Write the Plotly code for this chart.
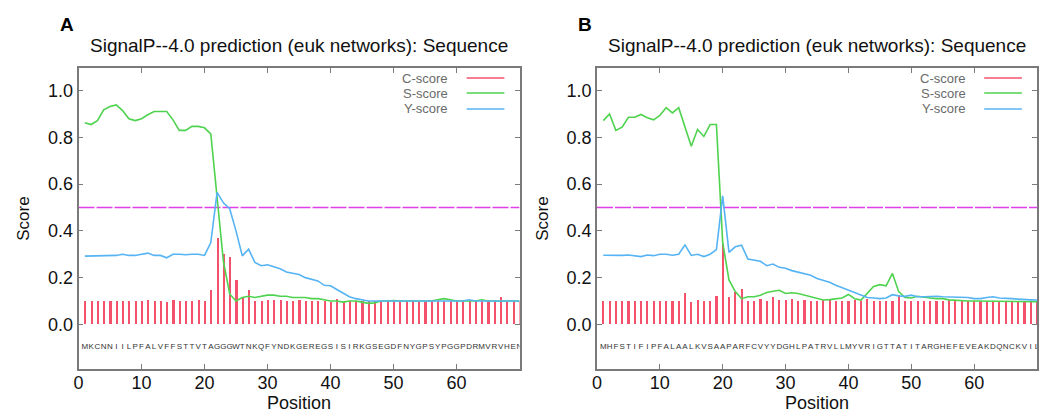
import plotly.graph_objects as go

# ---------------- data ----------------
positions = list(range(1, 71))

seq_a = list("MKCNNIILPFALVFFSTTVTAGGGWTNKQFYNDKGEREGSISIRKGSEGDFNYGPSYPGGPDRMVRVHEN")
seq_b = list("MHFSTIFIPFALAALKVSAAPARFCVYYDGHLPATRVLLMYVRIGTTATITARGHEFEVEAKDQNCKVIL")

c_score_a = [0.10, 0.10, 0.10, 0.10, 0.10, 0.10, 0.10, 0.10, 0.10, 0.10,
             0.105, 0.10, 0.10, 0.095, 0.105, 0.10, 0.10, 0.10, 0.105, 0.10,
             0.146, 0.37, 0.30, 0.29, 0.19, 0.118, 0.146, 0.10, 0.10, 0.105,
             0.105, 0.105, 0.10, 0.10, 0.105, 0.10, 0.10, 0.10, 0.10, 0.095,
             0.11, 0.095, 0.10, 0.10, 0.10, 0.10, 0.10, 0.10, 0.10, 0.10,
             0.10, 0.10, 0.105, 0.10, 0.10, 0.10, 0.10, 0.10, 0.10, 0.10,
             0.10, 0.10, 0.10, 0.10, 0.10, 0.10, 0.115, 0.10, 0.10, 0.10]
s_score_a = [0.863, 0.855, 0.872, 0.918, 0.932, 0.939, 0.915, 0.880, 0.872, 0.880,
             0.897, 0.911, 0.911, 0.911, 0.875, 0.83, 0.83, 0.847, 0.847, 0.841,
             0.815, 0.55, 0.27, 0.13, 0.10, 0.115, 0.12, 0.115, 0.12, 0.125,
             0.125, 0.12, 0.12, 0.115, 0.115, 0.115, 0.11, 0.11, 0.105, 0.10,
             0.10, 0.095, 0.10, 0.10, 0.095, 0.09, 0.092, 0.10, 0.10, 0.102,
             0.10, 0.10, 0.10, 0.102, 0.10, 0.10, 0.105, 0.11, 0.105, 0.10,
             0.10, 0.10, 0.10, 0.105, 0.10, 0.10, 0.10, 0.10, 0.10, 0.10]
y_score_a = [0.292, 0.292, 0.295, 0.295, 0.295, 0.295, 0.30, 0.295, 0.295, 0.30,
             0.305, 0.295, 0.295, 0.285, 0.30, 0.30, 0.298, 0.30, 0.30, 0.295,
             0.35, 0.565, 0.52, 0.495, 0.40, 0.293, 0.322, 0.265, 0.251, 0.255,
             0.247, 0.238, 0.224, 0.217, 0.213, 0.20, 0.193, 0.186, 0.167, 0.165,
             0.149, 0.132, 0.118, 0.11, 0.105, 0.10, 0.10, 0.10, 0.10, 0.10,
             0.10, 0.10, 0.10, 0.10, 0.10, 0.10, 0.10, 0.10, 0.10, 0.10,
             0.10, 0.105, 0.10, 0.10, 0.10, 0.10, 0.10, 0.10, 0.10, 0.10]

c_score_b = [0.10, 0.10, 0.10, 0.10, 0.10, 0.10, 0.098, 0.10, 0.098, 0.10,
             0.10, 0.098, 0.10, 0.135, 0.097, 0.105, 0.098, 0.10, 0.12, 0.345,
             0.115, 0.14, 0.153, 0.10, 0.10, 0.11, 0.098, 0.115, 0.105, 0.105,
             0.11, 0.10, 0.105, 0.10, 0.10, 0.105, 0.105, 0.10, 0.10, 0.10,
             0.106, 0.098, 0.11, 0.10, 0.10, 0.10, 0.10, 0.125, 0.10, 0.10,
             0.10, 0.10, 0.10, 0.10, 0.10, 0.105, 0.10, 0.10, 0.10, 0.10,
             0.10, 0.10, 0.10, 0.10, 0.10, 0.10, 0.10, 0.10, 0.10, 0.10]
s_score_b = [0.872, 0.90, 0.830, 0.844, 0.886, 0.886, 0.898, 0.884, 0.875, 0.894,
             0.927, 0.905, 0.927, 0.844, 0.762, 0.834, 0.804, 0.855, 0.855, 0.35,
             0.19, 0.14, 0.11, 0.118, 0.118, 0.125, 0.136, 0.142, 0.146, 0.132,
             0.135, 0.132, 0.125, 0.115, 0.11, 0.104, 0.106, 0.11, 0.113, 0.128,
             0.11, 0.104, 0.132, 0.162, 0.17, 0.165, 0.218, 0.14, 0.115, 0.113,
             0.12, 0.118, 0.113, 0.11, 0.11, 0.105, 0.103, 0.10, 0.10, 0.10,
             0.10, 0.10, 0.10, 0.10, 0.10, 0.10, 0.098, 0.097, 0.097, 0.097]
y_score_b = [0.296, 0.295, 0.293, 0.295, 0.297, 0.295, 0.29, 0.297, 0.294, 0.30,
             0.30, 0.296, 0.30, 0.34, 0.295, 0.30, 0.29, 0.30, 0.32, 0.55,
             0.308, 0.332, 0.339, 0.28, 0.275, 0.27, 0.251, 0.258, 0.244, 0.24,
             0.23, 0.224, 0.217, 0.21, 0.196, 0.189, 0.18, 0.167, 0.157, 0.146,
             0.136, 0.125, 0.115, 0.113, 0.11, 0.113, 0.127, 0.122, 0.12, 0.125,
             0.118, 0.118, 0.12, 0.12, 0.118, 0.118, 0.118, 0.115, 0.115, 0.11,
             0.11, 0.115, 0.118, 0.113, 0.11, 0.11, 0.108, 0.108, 0.105, 0.104]

threshold = 0.5
x_ticks = [0, 10, 20, 30, 40, 50, 60]
y_ticks = [0.0, 0.2, 0.4, 0.6, 0.8, 1.0]
panel_labels = ["A", "B"]
title_text = "SignalP--4.0 prediction (euk networks): Sequence"
legend_names = ["C-score", "S-score", "Y-score"]

# ---------------- style ----------------
RED = "#f4526c"
GREEN = "#4fd34f"
BLUE = "#56b4f4"
MAGENTA = "#e03ee8"
FRAME = "#7a7a7a"
FONT = "Liberation Sans, Arial, sans-serif"

W, H = 1039, 415
panels = [
    dict(seq=seq_a, c=c_score_a, s=s_score_a, y=y_score_a, px=(74, 518)),
    dict(seq=seq_b, c=c_score_b, s=s_score_b, y=y_score_b, px=(596, 1039)),
]
y_top_px, y_bot_px = 68, 369
YR = [-0.191, 1.097]
XR = [0, 70]

fig = go.Figure()
annotations = []
shapes = []
layout_axes = {}

for i, p in enumerate(panels):
    k = "" if i == 0 else str(i + 1)
    xa, ya = "x" + k, "y" + k
    fig.add_trace(go.Bar(x=positions, y=p["c"], width=0.34, marker=dict(color=RED, line=dict(width=0)),
                         xaxis=xa, yaxis=ya, showlegend=False))
    fig.add_trace(go.Scatter(x=XR, y=[threshold, threshold], mode="lines",
                             line=dict(color=MAGENTA, width=1.5, dash="16px,2px"),
                             xaxis=xa, yaxis=ya, showlegend=False))
    fig.add_trace(go.Scatter(x=positions, y=p["s"], mode="lines", line=dict(color=GREEN, width=1.6),
                             xaxis=xa, yaxis=ya, showlegend=False))
    fig.add_trace(go.Scatter(x=positions, y=p["y"], mode="lines", line=dict(color=BLUE, width=1.6),
                             xaxis=xa, yaxis=ya, showlegend=False))
    fig.add_trace(go.Scatter(x=positions, y=[-0.097] * len(positions), mode="text", text=p["seq"],
                             textposition="middle center",
                             textfont=dict(size=8, color="#333333", family=FONT),
                             xaxis=xa, yaxis=ya, showlegend=False, hoverinfo="skip"))

    d0, d1 = p["px"][0] / W, min(p["px"][1] / W, 1.0)
    layout_axes["xaxis" + k] = dict(
        domain=[d0, d1], range=XR, anchor=ya, tickvals=x_ticks, ticks="inside", ticklen=5,
        tickcolor=FRAME, showline=True, linecolor=FRAME, linewidth=1.5, mirror="ticks",
        showgrid=False, zeroline=False, tickfont=dict(size=18, color="#111", family=FONT),
        ticklabelstandoff=-3,
        title=dict(text="Position", font=dict(size=18, color="#111", family=FONT), standoff=0),
    )
    layout_axes["yaxis" + k] = dict(
        domain=[1 - y_bot_px / H, 1 - y_top_px / H], range=YR, anchor=xa, tickvals=y_ticks,
        tickformat=".1f", ticks="inside", ticklen=5, tickcolor=FRAME, showline=True,
        linecolor=FRAME, linewidth=1.5, mirror="ticks", showgrid=False, zeroline=False,
        tickfont=dict(size=18, color="#111", family=FONT),
        title=dict(text="Score", font=dict(size=17, color="#111", family=FONT), standoff=14),
    )

    # panel letter and title
    annotations.append(dict(text="<b>%s</b>" % panel_labels[i], xref="paper", yref="paper",
                            x=(p["px"][0] - 12) / W, y=1 - 25 / H, xanchor="center", yanchor="middle",
                            showarrow=False, font=dict(size=19, color="#000", family=FONT)))
    annotations.append(dict(text=title_text, xref="paper", yref="paper",
                            x=(p["px"][0] + 222) / W, y=1 - 45 / H, xanchor="center", yanchor="middle",
                            showarrow=False, font=dict(size=19, color="#111", family=FONT)))
    # gnuplot-style key: text then line sample
    for j, (name, col) in enumerate(zip(legend_names, [RED, GREEN, BLUE])):
        ly = [1.054, 0.99, 0.922][j]
        annotations.append(dict(text=name, xref=xa, yref=ya, x=59.0, y=ly, xanchor="right",
                                yanchor="middle", showarrow=False,
                                font=dict(size=13, color="#6a6a6a", family=FONT)))
        shapes.append(dict(type="line", xref=xa, yref=ya, x0=61.6, x1=67.6, y0=ly, y1=ly,
                           line=dict(color=col, width=1.5)))

fig.update_layout(
    width=W, height=H, autosize=False, margin=dict(l=0, r=0, t=0, b=0),
    paper_bgcolor="white", plot_bgcolor="white", bargap=0,
    annotations=annotations, shapes=shapes, showlegend=False,
    **layout_axes,
)

fig.write_html("out.html")
